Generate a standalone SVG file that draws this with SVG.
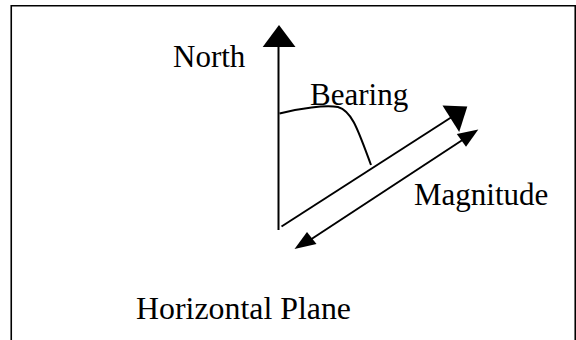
<svg xmlns="http://www.w3.org/2000/svg" width="576" height="340" viewBox="0 0 576 340">
<style>
.lbl{font-family:"Liberation Serif","Times New Roman",serif;font-size:31px;fill:#000}
.ln{stroke:#000;stroke-width:2;fill:none}
.hd{fill:#000;stroke:none}
</style>
<rect width="576" height="340" fill="#fff"/>
<g id="frame">
<path d="M11.25,340 V5.75 H575.25 V340" stroke="#000" stroke-width="1.6" fill="none"/>
</g>
<g id="north"><text class="lbl" x="173" y="67">North</text></g>
<g id="bearing"><text class="lbl" x="310" y="104.5">Bearing</text></g>
<g id="magnitude"><text class="lbl" x="414" y="204.5">Magnitude</text></g>
<g id="plane"><text class="lbl" x="136" y="319" textLength="215" lengthAdjust="spacingAndGlyphs">Horizontal Plane</text></g>
<g id="connectors">
<line class="ln" x1="278.5" y1="230" x2="278.5" y2="46"/>
<polygon class="hd" points="279,25 262.7,47 295.5,47"/>
<path class="ln" stroke-width="1.6" d="M279.5,113.5 C300,108 325,105 338,107 C352,111 358,130 371,165"/>
<line class="ln" x1="281.5" y1="226.5" x2="451" y2="117.5"/>
<polygon class="hd" points="467.3,106.5 442.5,105.5 459.2,132"/>
<line class="ln" x1="310" y1="240" x2="467" y2="137"/>
<polygon class="hd" points="478.3,129.5 456.8,134 466,146.8"/>
<polygon class="hd" points="294.5,249 307,232 316.5,244"/>
</g>
</svg>
